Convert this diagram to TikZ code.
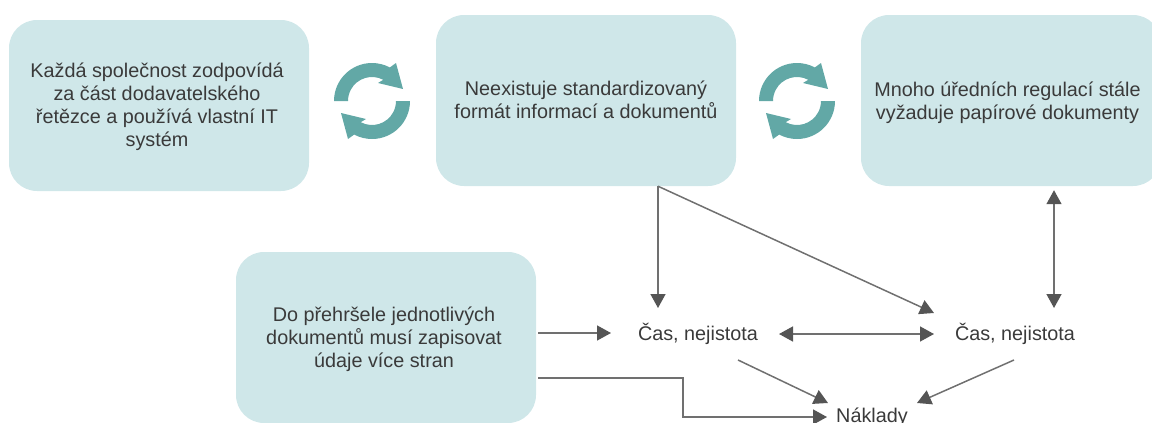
\documentclass[tikz,border=0pt]{standalone}
\usepackage{fontspec}
\setmainfont{Liberation Sans}
\usetikzlibrary{arrows.meta}
\definecolor{boxfill}{HTML}{CFE7E9}
\definecolor{cyc}{HTML}{62A8A6}
\definecolor{txt}{HTML}{3A3A3A}
\definecolor{lin}{HTML}{707070}
\definecolor{hd}{HTML}{555555}
\newcommand{\cycleicon}[2]{%
 \begin{scope}[shift={(#1,#2)},y=1pt]
  \foreach \r in {0,180}{
   \fill[cyc,rotate=\r] (180:38) arc[start angle=180,end angle=62,radius=38]
     -- (24,38) -- (31,12) -- (6,18) -- (62:24) arc[start angle=62,end angle=180,radius=24] -- cycle;
  }
 \end{scope}}
\newcommand{\boxtext}[3]{\raisebox{\dimexpr-#2-5pt\relax}[0pt][0pt]{\makebox[0pt]{\hspace*{#1}\begin{tabular}{@{}c@{}}#3\end{tabular}}}}
\tikzset{
 box/.style={fill=boxfill,rounded corners=28pt,minimum width=300pt,minimum height=171pt,inner sep=0pt,
   text=txt,font=\fontsize{19.8pt}{23pt}\selectfont},
 lbl/.style={text=txt,font=\fontsize{19.8pt}{23pt}\selectfont,inner sep=0pt},
 tip/.style={},
 conn/.style={draw=lin,line width=1.5pt,-{Triangle[length=14pt,width=15pt,fill=hd,color=hd]}},
 conn2/.style={draw=lin,line width=1.5pt,{Triangle[length=14pt,width=15pt,fill=hd,color=hd]}-{Triangle[length=14pt,width=15pt,fill=hd,color=hd]}},
}
\begin{document}
\begin{tikzpicture}[x=1pt,y=-1pt]
\useasboundingbox (0,0) rectangle (1152,423);
\clip (0,0) rectangle (1152,423);
\node[box] (b1) at (159,105.5) {\boxtext{-4pt}{2.5pt}{Každá společnost zodpovídá\\za část dodavatelského\\řetězce a používá vlastní IT\\systém}};
\node[box] (b2) at (586,100.5) {\boxtext{0pt}{2pt}{Neexistuje standardizovaný\\formát informací a dokumentů}};
\node[box] (b3) at (1011,100.5) {\boxtext{-7pt}{3pt}{Mnoho úředních regulací stále\\vyžaduje papírové dokumenty}};
\node[box] (b4) at (386,337.5) {\boxtext{-4pt}{3pt}{Do přehršele jednotlivých\\dokumentů musí zapisovat\\údaje více stran}};
\node[lbl] (c1) at (698,334) {Čas, nejistota};
\node[lbl] (c2) at (1015,334) {Čas, nejistota};
\node[lbl] (n) at (872,417) {Náklady};
\cycleicon{372}{101}
\cycleicon{797}{101}
\draw[conn] ([xshift=72pt]b2.south) -- ([xshift=-40pt,yshift=26pt]c1.center);
\draw[conn] ([xshift=72pt]b2.south) -- ([xshift=-81pt,yshift=21pt]c2.center);
\draw[conn2] ([xshift=43pt,yshift=-4pt]b3.south) -- ([xshift=39pt,yshift=26pt]c2.center);
\draw[conn] ([xshift=2pt,yshift=4.5pt]b4.center -| b4.east) -- ([xshift=-87pt,yshift=1pt]c1.center);
\draw[conn2] ([xshift=81pt]c1.center) -- ([xshift=-81pt]c2.center);
\draw[conn] ([xshift=40pt,yshift=-26pt]c1.center) -- ([xshift=-44pt,yshift=14pt]n.center);
\draw[conn] ([xshift=-1pt,yshift=-26pt]c2.center) -- ([xshift=45pt,yshift=14pt]n.center);
\draw[conn] ([xshift=2pt,yshift=-40.5pt]b4.east) -| ([xshift=-189pt]n.center) -- ([xshift=-45pt]n.center);
\end{tikzpicture}
\end{document}
